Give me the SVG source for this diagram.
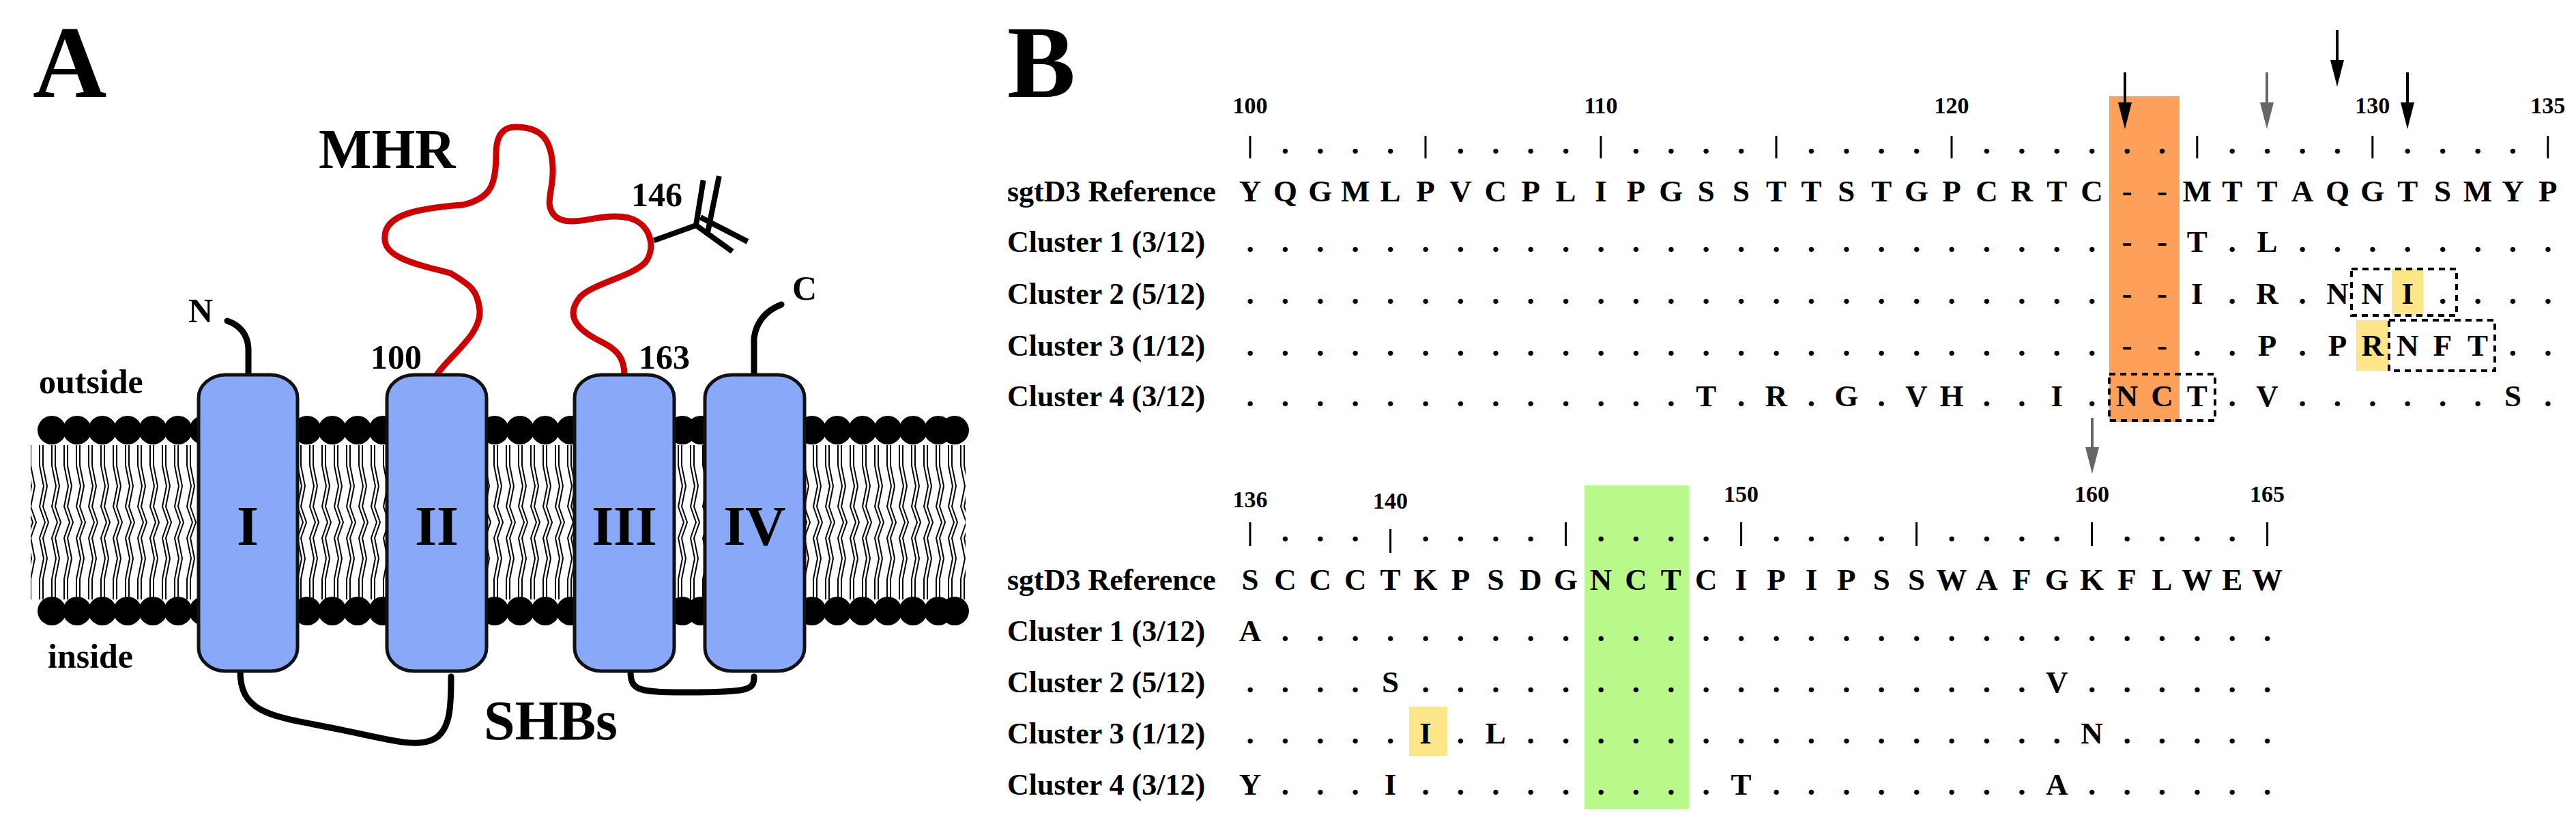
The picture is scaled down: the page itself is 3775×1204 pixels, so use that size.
<svg xmlns="http://www.w3.org/2000/svg" width="3775" height="1204" viewBox="0 0 3775 1204">
<style>
text{font-family:"Liberation Serif","Times New Roman",serif;font-weight:bold;fill:#000}
.big{font-size:150px}
.lab{font-size:82px}
.sm{font-size:50px}
.seq{font-size:45px;text-anchor:middle}
.num{font-size:34px;text-anchor:middle}
.row{font-size:44px}
.helix{fill:#8aa8f8;stroke:#111;stroke-width:5}
.rn{font-size:82px;text-anchor:middle}
.loop{fill:none;stroke:#000;stroke-width:9;stroke-linecap:round}
.tick{stroke:#000;stroke-width:3}
.box{fill:none;stroke:#000;stroke-width:4;stroke-dasharray:9 7}
</style>
<defs>
<pattern id="tails" x="0" y="652" width="18" height="226" patternUnits="userSpaceOnUse">
<path d="M4 0 L4 30 L10 60 L4 90 L12 113 L4 136 L10 166 L4 196 L4 226 M9 0 L9 30 L15 60 L9 90 L17 113 L9 136 L15 166 L9 196 L9 226" fill="none" stroke="#000" stroke-width="2"/>
</pattern>
</defs>
<rect width="3775" height="1204" fill="#fff"/>
<text class="big" x="48" y="142">A</text>
<text class="big" x="1476" y="142">B</text>
<g id="membrane">
<rect x="45" y="652" width="1370" height="226" fill="url(#tails)"/>
<g fill="#000" id="headsTop">
<circle cx="76" cy="630" r="21"/><circle cx="113" cy="630" r="21"/><circle cx="150" cy="630" r="21"/><circle cx="187" cy="630" r="21"/><circle cx="224" cy="630" r="21"/><circle cx="261" cy="630" r="21"/><circle cx="298" cy="630" r="21"/>
<circle cx="450" cy="630" r="21"/><circle cx="487" cy="630" r="21"/><circle cx="524" cy="630" r="21"/><circle cx="561" cy="630" r="21"/>
<circle cx="725" cy="630" r="21"/><circle cx="762" cy="630" r="21"/><circle cx="799" cy="630" r="21"/><circle cx="836" cy="630" r="21"/>
<circle cx="1000" cy="630" r="21"/><circle cx="1027" cy="630" r="21"/>
<circle cx="1190" cy="630" r="21"/><circle cx="1227" cy="630" r="21"/><circle cx="1264" cy="630" r="21"/><circle cx="1301" cy="630" r="21"/><circle cx="1338" cy="630" r="21"/><circle cx="1375" cy="630" r="21"/><circle cx="1399" cy="630" r="21"/>
</g>
<g fill="#000" id="headsBottom">
<circle cx="76" cy="895" r="21"/><circle cx="113" cy="895" r="21"/><circle cx="150" cy="895" r="21"/><circle cx="187" cy="895" r="21"/><circle cx="224" cy="895" r="21"/><circle cx="261" cy="895" r="21"/><circle cx="298" cy="895" r="21"/>
<circle cx="450" cy="895" r="21"/><circle cx="487" cy="895" r="21"/><circle cx="524" cy="895" r="21"/><circle cx="561" cy="895" r="21"/>
<circle cx="725" cy="895" r="21"/><circle cx="762" cy="895" r="21"/><circle cx="799" cy="895" r="21"/><circle cx="836" cy="895" r="21"/>
<circle cx="1000" cy="895" r="21"/><circle cx="1027" cy="895" r="21"/>
<circle cx="1190" cy="895" r="21"/><circle cx="1227" cy="895" r="21"/><circle cx="1264" cy="895" r="21"/><circle cx="1301" cy="895" r="21"/><circle cx="1338" cy="895" r="21"/><circle cx="1375" cy="895" r="21"/><circle cx="1399" cy="895" r="21"/>
</g>
</g>
<g id="connectors">
<path class="loop" d="M364 549 L364 510 Q362 480 333 470"/>
<path class="loop" d="M1105 549 L1105 495 Q1110 460 1145 446"/>
<path class="loop" d="M352 983 C352 1040 390 1048 470 1063 C560 1080 600 1095 630 1085 C662 1075 661 1030 661 991"/>
<path class="loop" d="M924 983 C924 1012 935 1014 1010 1014 C1100 1014 1105 1010 1105 991"/>
<path d="M640 549 C660 520 705 490 703 455 C700 425 690 418 660 400 C600 385 560 375 564 345 C566 315 610 305 679 300 C720 290 727 270 727 225 C727 195 740 185 758 186 C790 187 808 200 810 245 C812 280 795 300 815 318 C840 335 880 310 921 319 C955 328 962 365 945 385 C925 405 870 415 850 435 C830 460 840 480 880 500 C905 512 915 525 915 549" fill="none" stroke="#cc0000" stroke-width="9" stroke-linecap="round"/>
<g stroke="#000" stroke-width="8" fill="none" stroke-linecap="square">
<path d="M962 351 L1020 330"/>
<path d="M1020 330 L1030 268 M1038 336 L1053 262"/>
<path d="M1020 330 L1070 366 M1030 320 L1092 352"/>
</g>
</g>
<g id="helix-I"><rect class="helix" x="291" y="549" width="145" height="434" rx="40" ry="34"/><text class="rn" x="363" y="798">I</text></g>
<g id="helix-II"><rect class="helix" x="567" y="549" width="146" height="434" rx="40" ry="34"/><text class="rn" x="640" y="798">II</text></g>
<g id="helix-III"><rect class="helix" x="842" y="549" width="146" height="434" rx="40" ry="34"/><text class="rn" x="915" y="798">III</text></g>
<g id="helix-IV"><rect class="helix" x="1033" y="549" width="146" height="434" rx="40" ry="34"/><text class="rn" x="1106" y="798">IV</text></g>
<g id="labelsA">
<text class="lab" x="467" y="246">MHR</text>
<text class="sm" x="925" y="302">146</text>
<text class="sm" x="276" y="472">N</text>
<text class="sm" x="1161" y="439">C</text>
<text class="sm" x="543" y="540">100</text>
<text class="sm" x="936" y="540">163</text>
<text class="sm" x="57" y="576">outside</text>
<text class="sm" x="70" y="978">inside</text>
<text class="lab" x="709" y="1083">SHBs</text>
</g>
<g id="highlights">
<rect x="3091" y="141" width="103" height="477" fill="#ffa05a"/>
<rect x="3505" y="394" width="46" height="68" fill="#fde68a"/>
<rect x="3453" y="469" width="48" height="74" fill="#fde68a"/>
<rect x="2322" y="711" width="153" height="474" fill="#b9f88a"/>
<rect x="2065" y="1035" width="56" height="72" fill="#fde68a"/>
</g>
<g id="arrows">
<g stroke="#000" stroke-width="4"><line x1="3114" y1="106" x2="3114" y2="160"/><line x1="3425" y1="44" x2="3425" y2="98"/><line x1="3528" y1="106" x2="3528" y2="160"/></g>
<path d="M3104 150 L3114 189 L3124 150 Z M3415 88 L3425 127 L3435 88 Z M3518 150 L3528 189 L3538 150 Z" fill="#000"/>
<g stroke="#666" stroke-width="4"><line x1="3322" y1="106" x2="3322" y2="160"/><line x1="3066" y1="612" x2="3066" y2="665"/></g>
<path d="M3312 150 L3322 189 L3332 150 Z M3056 655 L3066 694 L3076 655 Z" fill="#666"/>
</g>
<g id="alignment-top">
<text class="num" x="1832" y="166">100</text><text class="num" x="2346" y="166">110</text><text class="num" x="2860" y="166">120</text><text class="num" x="3476.8" y="166">130</text><text class="num" x="3733.8" y="166">135</text>
<g class="tick"><line x1="1832" y1="199" x2="1832" y2="232"/><line x1="2089" y1="199" x2="2089" y2="232"/><line x1="2346" y1="199" x2="2346" y2="232"/><line x1="2603" y1="199" x2="2603" y2="232"/><line x1="2860" y1="199" x2="2860" y2="232"/><line x1="3219.8" y1="199" x2="3219.8" y2="232"/><line x1="3476.8" y1="199" x2="3476.8" y2="232"/><line x1="3733.8" y1="199" x2="3733.8" y2="232"/></g>
<text class="seq" y="225" x="1883.4 1934.8 1986.2 2037.6 2140.4 2191.8 2243.2 2294.6 2397.4 2448.8 2500.2 2551.6 2654.4 2705.8 2757.2 2808.6 2911.4 2962.8 3014.2 3065.6 3117 3168.4 3271.2 3322.6 3374 3425.4 3528.2 3579.6 3631 3682.4">..............................</text>
<text class="row" x="1476" y="295">sgtD3 Reference</text>
<text class="row" x="1476" y="369">Cluster 1 (3/12)</text>
<text class="row" x="1476" y="445">Cluster 2 (5/12)</text>
<text class="row" x="1476" y="521">Cluster 3 (1/12)</text>
<text class="row" x="1476" y="595">Cluster 4 (3/12)</text>
<text class="seq" y="295" x="1832 1883.4 1934.8 1986.2 2037.6 2089 2140.4 2191.8 2243.2 2294.6 2346 2397.4 2448.8 2500.2 2551.6 2603 2654.4 2705.8 2757.2 2808.6 2860 2911.4 2962.8 3014.2 3065.6 3117 3168.4 3219.8 3271.2 3322.6 3374 3425.4 3476.8 3528.2 3579.6 3631 3682.4 3733.8">YQGMLPVCPLIPGSSTTSTGPCRTC--MTTAQGTSMYP</text>
<text class="seq" y="369" x="1832 1883.4 1934.8 1986.2 2037.6 2089 2140.4 2191.8 2243.2 2294.6 2346 2397.4 2448.8 2500.2 2551.6 2603 2654.4 2705.8 2757.2 2808.6 2860 2911.4 2962.8 3014.2 3065.6 3117 3168.4 3219.8 3271.2 3322.6 3374 3425.4 3476.8 3528.2 3579.6 3631 3682.4 3733.8">.........................--T.L........</text>
<text class="seq" y="445" x="1832 1883.4 1934.8 1986.2 2037.6 2089 2140.4 2191.8 2243.2 2294.6 2346 2397.4 2448.8 2500.2 2551.6 2603 2654.4 2705.8 2757.2 2808.6 2860 2911.4 2962.8 3014.2 3065.6 3117 3168.4 3219.8 3271.2 3322.6 3374 3425.4 3476.8 3528.2 3579.6 3631 3682.4 3733.8">.........................--I.R.NNI....</text>
<text class="seq" y="521" x="1832 1883.4 1934.8 1986.2 2037.6 2089 2140.4 2191.8 2243.2 2294.6 2346 2397.4 2448.8 2500.2 2551.6 2603 2654.4 2705.8 2757.2 2808.6 2860 2911.4 2962.8 3014.2 3065.6 3117 3168.4 3219.8 3271.2 3322.6 3374 3425.4 3476.8 3528.2 3579.6 3631 3682.4 3733.8">.........................--..P.PRNFT..</text>
<text class="seq" y="595" x="1832 1883.4 1934.8 1986.2 2037.6 2089 2140.4 2191.8 2243.2 2294.6 2346 2397.4 2448.8 2500.2 2551.6 2603 2654.4 2705.8 2757.2 2808.6 2860 2911.4 2962.8 3014.2 3065.6 3117 3168.4 3219.8 3271.2 3322.6 3374 3425.4 3476.8 3528.2 3579.6 3631 3682.4 3733.8">.............T.R.G.VH..I.NCT.V......S.</text>
<rect class="box" x="3446" y="394" width="154" height="68"/>
<rect class="box" x="3501" y="469" width="155" height="74"/>
<rect class="box" x="3091" y="548" width="155" height="68"/>
</g>
<g id="alignment-bottom">
<text class="num" x="1832" y="743">136</text><text class="num" x="2037.6" y="745">140</text><text class="num" x="2551.6" y="735">150</text><text class="num" x="3065.6" y="735">160</text><text class="num" x="3322.6" y="735">165</text>
<g class="tick"><line x1="1832" y1="765" x2="1832" y2="800"/><line x1="2037.6" y1="775" x2="2037.6" y2="810"/><line x1="2294.6" y1="765" x2="2294.6" y2="800"/><line x1="2551.6" y1="765" x2="2551.6" y2="800"/><line x1="2808.6" y1="765" x2="2808.6" y2="800"/><line x1="3065.6" y1="765" x2="3065.6" y2="800"/><line x1="3322.6" y1="765" x2="3322.6" y2="800"/></g>
<text class="seq" y="793" x="1883.4 1934.8 1986.2 2089 2140.4 2191.8 2243.2 2346 2397.4 2448.8 2500.2 2603 2654.4 2705.8 2757.2 2860 2911.4 2962.8 3014.2 3117 3168.4 3219.8 3271.2">.......................</text>
<text class="row" x="1476" y="864">sgtD3 Reference</text>
<text class="row" x="1476" y="939">Cluster 1 (3/12)</text>
<text class="row" x="1476" y="1014">Cluster 2 (5/12)</text>
<text class="row" x="1476" y="1089">Cluster 3 (1/12)</text>
<text class="row" x="1476" y="1164">Cluster 4 (3/12)</text>
<text class="seq" y="864" x="1832 1883.4 1934.8 1986.2 2037.6 2089 2140.4 2191.8 2243.2 2294.6 2346 2397.4 2448.8 2500.2 2551.6 2603 2654.4 2705.8 2757.2 2808.6 2860 2911.4 2962.8 3014.2 3065.6 3117 3168.4 3219.8 3271.2 3322.6">SCCCTKPSDGNCTCIPIPSSWAFGKFLWEW</text>
<text class="seq" y="939" x="1832 1883.4 1934.8 1986.2 2037.6 2089 2140.4 2191.8 2243.2 2294.6 2346 2397.4 2448.8 2500.2 2551.6 2603 2654.4 2705.8 2757.2 2808.6 2860 2911.4 2962.8 3014.2 3065.6 3117 3168.4 3219.8 3271.2 3322.6">A.............................</text>
<text class="seq" y="1014" x="1832 1883.4 1934.8 1986.2 2037.6 2089 2140.4 2191.8 2243.2 2294.6 2346 2397.4 2448.8 2500.2 2551.6 2603 2654.4 2705.8 2757.2 2808.6 2860 2911.4 2962.8 3014.2 3065.6 3117 3168.4 3219.8 3271.2 3322.6">....S..................V......</text>
<text class="seq" y="1089" x="1832 1883.4 1934.8 1986.2 2037.6 2089 2140.4 2191.8 2243.2 2294.6 2346 2397.4 2448.8 2500.2 2551.6 2603 2654.4 2705.8 2757.2 2808.6 2860 2911.4 2962.8 3014.2 3065.6 3117 3168.4 3219.8 3271.2 3322.6">.....I.L................N.....</text>
<text class="seq" y="1164" x="1832 1883.4 1934.8 1986.2 2037.6 2089 2140.4 2191.8 2243.2 2294.6 2346 2397.4 2448.8 2500.2 2551.6 2603 2654.4 2705.8 2757.2 2808.6 2860 2911.4 2962.8 3014.2 3065.6 3117 3168.4 3219.8 3271.2 3322.6">Y...I.........T........A......</text>
</g>
</svg>
